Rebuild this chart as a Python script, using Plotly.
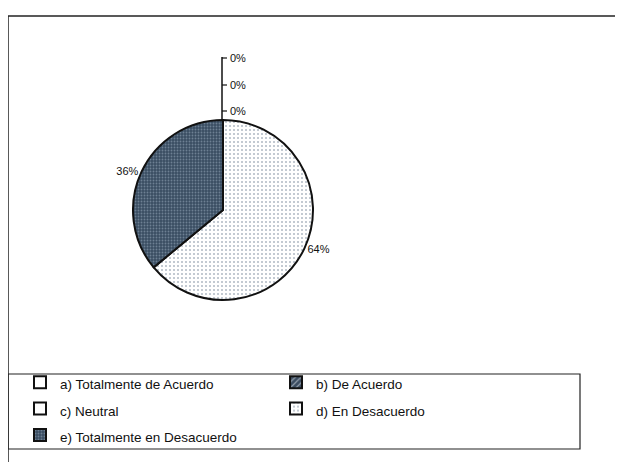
import plotly.graph_objects as go

# survey answers (percent of respondents)
labels = [
    "a) Totalmente de Acuerdo",
    "b) De Acuerdo",
    "c) Neutral",
    "d) En Desacuerdo",
    "e) Totalmente en Desacuerdo",
]
values = [0, 0, 0, 64, 36]

W, H = 623, 462
OFF = 8  # page body margin pushes the figure 8px right/down

def px(x):
    return (x - OFF) / W

def py(y):
    return 1 - (y - OFF) / H

colors = ["#ffffff", "#3b4c60", "#ffffff", "#ffffff", "#3a4d62"]
pat_shape = ["", "/", "", ".", "."]
pat_fg = ["#000000", "#e8eef3", "#000000", "#5f7287", "#9fb3c4"]
pat_size = [6, 4, 6, 4, 3]
pat_sol = [0.2, 0.3, 0.2, 0.2, 0.3]
templates = ["" if v == 0 else "%{percent:.0%}" for v in values]
# bigger base font only to widen the legend row spacing, text itself stays 13.5px
legend_labels = [f"<span style='font-size:13.5px'>{l}</span>" for l in labels]

fig = go.Figure(go.Pie(
    labels=legend_labels,
    values=values,
    sort=False,
    direction="clockwise",
    rotation=0,
    textposition="outside",
    texttemplate=templates,
    textfont=dict(family="Liberation Sans, Arial", size=11, color="#111111"),
    marker=dict(
        colors=colors,
        line=dict(color="#111111", width=2),
        pattern=dict(shape=pat_shape, fgcolor=pat_fg, size=pat_size,
                     solidity=pat_sol, fillmode="overlay"),
    ),
    domain=dict(x=[px(133), px(313)], y=[py(300), py(120)]),
    hoverinfo="label+percent",
))

shapes = [
    # outer frame (top and left edges visible in the scan)
    dict(type="line", xref="paper", yref="paper", x0=px(8), x1=1, y0=py(16), y1=py(16),
         line=dict(color="#222222", width=1.5)),
    dict(type="line", xref="paper", yref="paper", x0=px(8), x1=px(8), y0=py(16), y1=0,
         line=dict(color="#222222", width=1.5)),
    # legend box
    dict(type="rect", xref="paper", yref="paper", x0=px(8), x1=px(580), y0=py(449), y1=py(374),
         line=dict(color="#222222", width=1.2), fillcolor="rgba(0,0,0,0)"),
    # leader line for the zero slices
    dict(type="line", xref="paper", yref="paper", x0=px(222), x1=px(222), y0=py(121), y1=py(57),
         line=dict(color="#111111", width=1.5)),
]

annotations = []
zero_rows = [58, 85, 111]
zi = 0
for lab, v in zip(labels, values):
    if v != 0:
        continue
    yy = zero_rows[zi]
    shapes.append(dict(type="line", xref="paper", yref="paper", x0=px(222), x1=px(227),
                       y0=py(yy), y1=py(yy), line=dict(color="#111111", width=1.2)))
    annotations.append(dict(xref="paper", yref="paper", x=px(228), y=py(yy), text=f"{v}%",
                            showarrow=False, xanchor="left", yanchor="middle",
                            font=dict(family="Liberation Sans, Arial", size=11, color="#111111")))
    zi += 1

fig.update_layout(
    width=W, height=H,
    margin=dict(l=0, r=0, t=0, b=0),
    paper_bgcolor="white",
    plot_bgcolor="white",
    showlegend=True,
    legend=dict(
        orientation="h",
        x=px(20), y=py(364), xanchor="left", yanchor="top",
        entrywidth=211, entrywidthmode="pixels",
        font=dict(family="Liberation Sans, Arial", size=18, color="#111111"),
        bgcolor="rgba(0,0,0,0)",
        itemwidth=30,
        traceorder="normal",
    ),
    shapes=shapes,
    annotations=annotations,
)

fig.write_html("out.html")
